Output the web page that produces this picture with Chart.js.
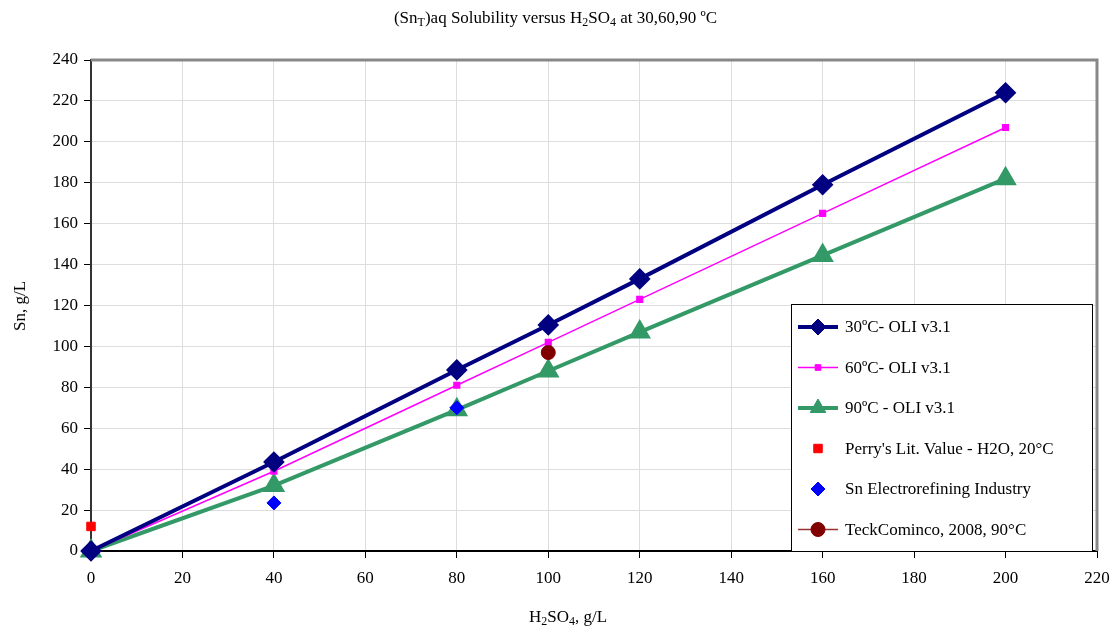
<!DOCTYPE html>
<html>
<head>
<meta charset="utf-8">
<script src="https://cdn.jsdelivr.net/npm/chart.js@4"></script>
<style>
  html, body { margin: 0; padding: 0; background: #fff; }
  #wrap { position: relative; width: 1111px; height: 631px; font-family: 'Liberation Serif', 'Times New Roman', serif; color: #000; }
  canvas { position: absolute; left: 0; top: 0; }
  .lbl { position: absolute; font-size: 17px; white-space: nowrap; }
  sub { font-size: 12px; vertical-align: -3px; line-height: 0; }
</style>
</head>
<body>
<div id="wrap">
  <canvas id="solChart" width="1111" height="631"></canvas>
  <div class="lbl" style="left:0; width:1111px; text-align:center; top:8px;">(Sn<sub>T</sub>)aq Solubility versus H<sub>2</sub>SO<sub>4</sub> at 30,60,90 ºC</div>
  <div class="lbl" style="left:0; width:1136px; text-align:center; top:607px;">H<sub>2</sub>SO<sub>4</sub>, g/L</div>
  <div class="lbl" style="left:20px; top:306px; transform: translate(-50%, -50%) rotate(-90deg);">Sn, g/L</div>
</div>
<script>
// H2SO4 concentrations (g/L) for the OLI model curves
const acid = [0, 40, 80, 100, 120, 160, 200];
const oli30 = [0, 43.5, 88.5, 110.5, 133, 179, 224];
const oli60 = [0, 39, 81, 102, 123, 165, 207];
const oli90 = [0, 32, 69, 88, 107, 144.5, 182];

// literature / plant points
const perryX = [0];
const perryY = [12];
const industryX = [40, 80];
const industryY = [23.5, 70];
const teckX = [100];
const teckY = [97];

const xTicks = [0, 20, 40, 60, 80, 100, 120, 140, 160, 180, 200, 220];
const yTicks = [0, 20, 40, 60, 80, 100, 120, 140, 160, 180, 200, 220, 240];

const toPts = (xs, ys) => xs.map((x, i) => ({ x: x, y: ys[i] }));

// grey frame on top/right plus the boxed legend inside the plot
const framePlugin = {
    id: 'frame',
    afterDraw(chart) {
        const ctx = chart.ctx;
        const a = chart.chartArea;
        ctx.save();
        ctx.strokeStyle = '#888';
        ctx.lineWidth = 3;
        ctx.beginPath();
        ctx.moveTo(a.left, a.top);
        ctx.lineTo(a.right, a.top);
        ctx.lineTo(a.right, a.bottom);
        ctx.stroke();

        const bx = 791, by = 304, bw = 301, bh = 247;
        ctx.fillStyle = '#fff';
        ctx.fillRect(bx, by, bw, bh);
        ctx.strokeStyle = '#000';
        ctx.lineWidth = 1;
        ctx.strokeRect(bx + 0.5, by + 0.5, bw, bh);

        ctx.font = '17px "Liberation Serif", serif';
        ctx.textBaseline = 'middle';
        chart.data.datasets.forEach((ds, i) => {
            const cy = by + 23 + i * 40.5;
            const lx1 = bx + 7, lx2 = bx + 47;
            if (ds.legendLine) {
                ctx.strokeStyle = ds.legendLine;
                ctx.lineWidth = ds.legendWidth;
                ctx.beginPath();
                ctx.moveTo(lx1, cy);
                ctx.lineTo(lx2, cy);
                ctx.stroke();
            }
            ctx.fillStyle = ds.pointBackgroundColor;
            ctx.strokeStyle = ds.pointBorderColor;
            ctx.lineWidth = 1;
            Chart.helpers.drawPoint(ctx, {
                pointStyle: ds.pointStyle,
                radius: ds.pointRadius,
                borderWidth: 1,
                rotation: 0
            }, (lx1 + lx2) / 2, cy);
            ctx.fillStyle = '#000';
            ctx.fillText(ds.label, bx + 54, cy + 1);
        });
        ctx.restore();
    }
};

const ctx = document.getElementById('solChart').getContext('2d');
Chart.defaults.font.family = "'Liberation Serif', serif";
Chart.defaults.font.size = 17;
Chart.defaults.color = '#000';

new Chart(ctx, {
    type: 'scatter',
    data: {
        datasets: [
            {
                label: '30ºC- OLI v3.1',
                data: toPts(acid, oli30),
                showLine: true,
                borderColor: '#000080',
                borderWidth: 4,
                pointStyle: 'rectRot',
                pointRadius: 8,
                pointBackgroundColor: '#000080',
                pointBorderColor: '#000080',
                legendLine: '#000080',
                legendWidth: 4,
                clip: false,
                order: 1
            },
            {
                label: '60ºC- OLI v3.1',
                data: toPts(acid, oli60),
                showLine: true,
                borderColor: '#ff00ff',
                borderWidth: 1.5,
                pointStyle: 'rect',
                pointRadius: 4,
                pointBackgroundColor: '#ff00ff',
                pointBorderColor: '#ff00ff',
                legendLine: '#ff00ff',
                legendWidth: 1.5,
                clip: false,
                order: 2
            },
            {
                label: '90ºC - OLI v3.1',
                data: toPts(acid, oli90),
                showLine: true,
                borderColor: '#339966',
                borderWidth: 4,
                pointStyle: 'triangle',
                pointRadius: 9,
                pointBackgroundColor: '#339966',
                pointBorderColor: '#339966',
                legendLine: '#339966',
                legendWidth: 4,
                clip: false,
                order: 3
            },
            {
                label: "Perry's Lit. Value - H2O, 20°C",
                data: toPts(perryX, perryY),
                showLine: false,
                pointStyle: 'rect',
                pointRadius: 6,
                pointBackgroundColor: '#ff0000',
                pointBorderColor: '#ff0000',
                legendLine: null,
                clip: false,
                order: 0
            },
            {
                label: 'Sn Electrorefining Industry',
                data: toPts(industryX, industryY),
                showLine: false,
                pointStyle: 'rectRot',
                pointRadius: 7,
                pointBackgroundColor: '#0000ff',
                pointBorderColor: '#0000ff',
                legendLine: null,
                clip: false,
                order: 0
            },
            {
                label: 'TeckCominco, 2008, 90°C',
                data: toPts(teckX, teckY),
                showLine: false,
                pointStyle: 'circle',
                pointRadius: 7,
                pointBackgroundColor: '#800000',
                pointBorderColor: '#800000',
                legendLine: '#993333',
                legendWidth: 1.5,
                clip: false,
                order: 0
            }
        ]
    },
    options: {
        responsive: false,
        animation: false,
        layout: { padding: { left: 0, right: 14, top: 60, bottom: 0 } },
        plugins: {
            legend: { display: false },
            tooltip: { enabled: false }
        },
        scales: {
            x: {
                type: 'linear',
                min: 0,
                max: 220,
                afterBuildTicks: (s) => { s.ticks = xTicks.map(v => ({ value: v })); },
                afterFit: (s) => { s.height = 80; s.paddingLeft = 0; s.paddingRight = 0; },
                ticks: { padding: 10, maxRotation: 0, autoSkip: false },
                grid: { color: '#dddddd', lineWidth: 1, tickLength: 7, tickColor: '#000' },
                border: { color: '#000', width: 2 }
            },
            y: {
                type: 'linear',
                min: 0,
                max: 240,
                afterBuildTicks: (s) => { s.ticks = yTicks.map(v => ({ value: v })); },
                afterFit: (s) => { s.width = 91; },
                ticks: { padding: 6, autoSkip: false },
                grid: { color: '#dddddd', lineWidth: 1, tickLength: 7, tickColor: '#000' },
                border: { color: '#333', width: 2 }
            }
        }
    },
    plugins: [framePlugin]
});
</script>
</body>
</html>
